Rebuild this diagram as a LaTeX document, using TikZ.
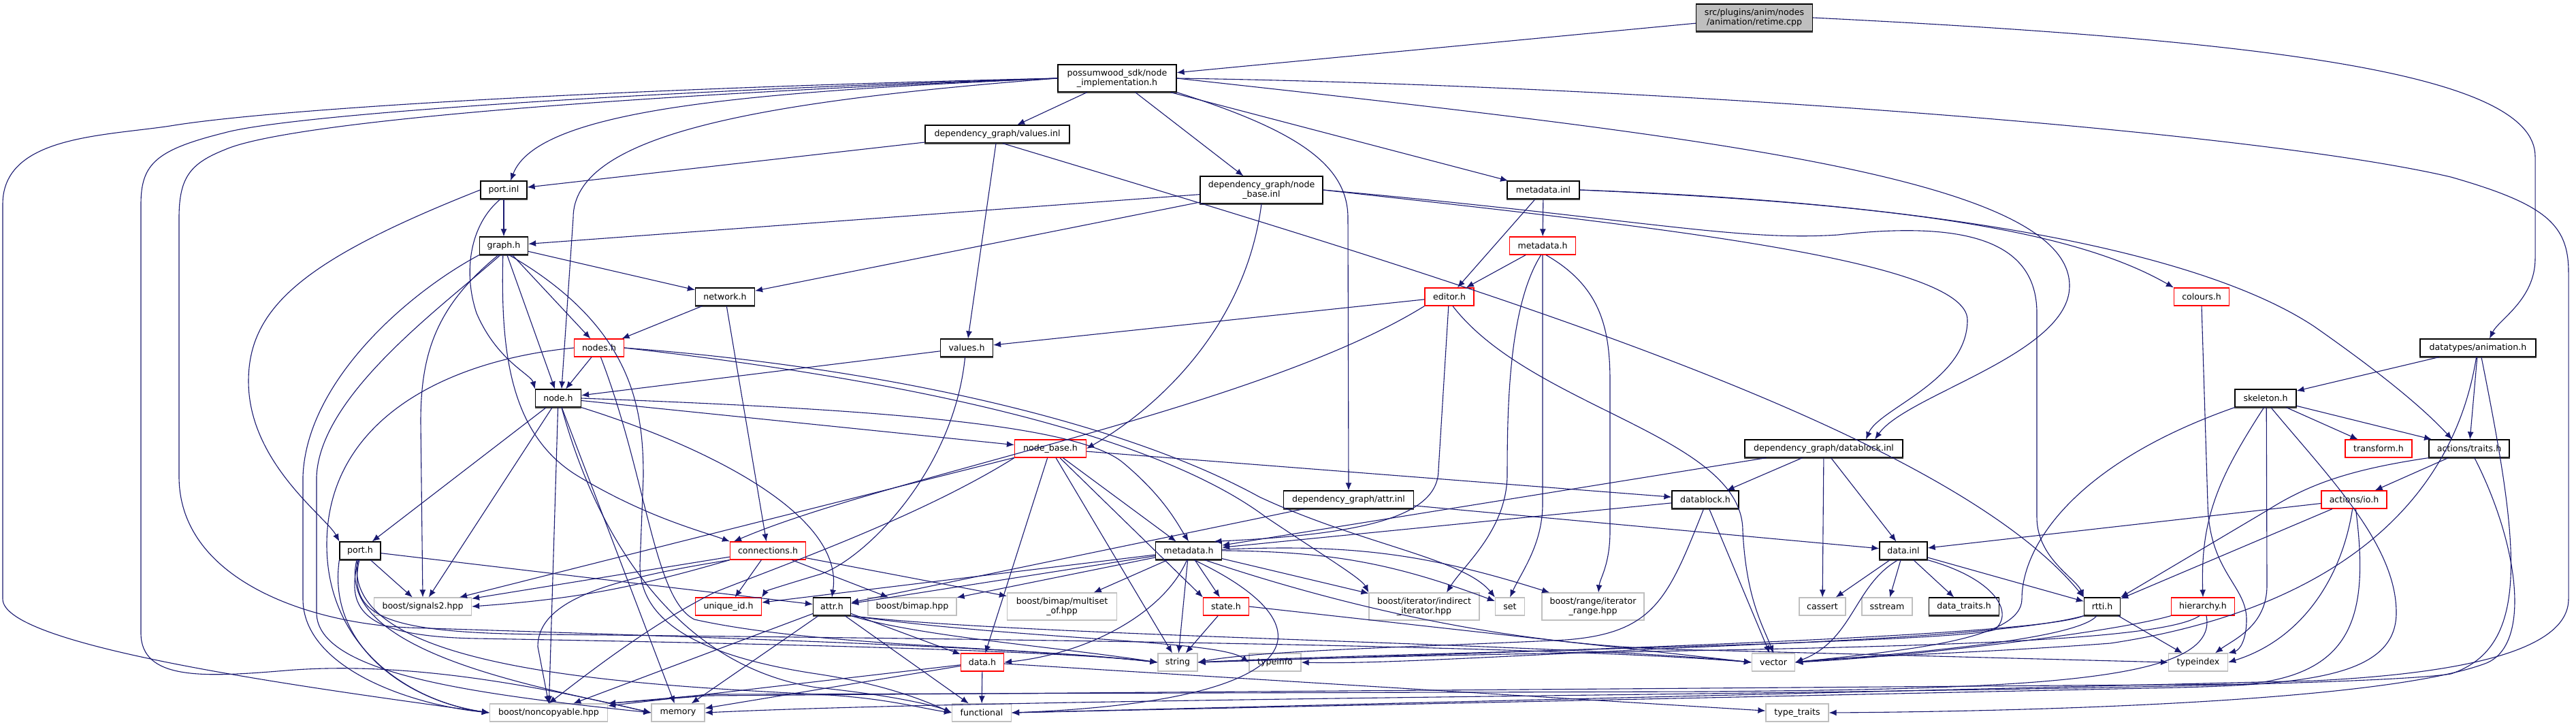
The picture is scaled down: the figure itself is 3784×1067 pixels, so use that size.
\documentclass[tikz,border=0pt]{standalone}
\usepackage{fontspec}
\setmainfont{DejaVu Sans}
\usepackage{tikz}
\usetikzlibrary{arrows.meta,calc}
\definecolor{DoxEdge}{HTML}{191970}
\definecolor{DoxGrey}{HTML}{BFBFBF}
\definecolor{DoxMain}{HTML}{BFBFBF}
\definecolor{DoxShade}{HTML}{404040}

\begin{document}
\begin{tikzpicture}[x=0.5pt,y=-0.5pt,>={Latex[length=5.5pt,width=4.5pt]},
 file/.style={draw=black,fill=white,line width=0.6pt,minimum height=13pt,inner sep=1pt,align=center,font=\fontsize{6.3}{7.2}\selectfont},
 docfile/.style={file,append after command={(\tikzlastnode.south west) edge[draw=DoxShade,line width=1.1pt] (\tikzlastnode.south east)}},
 redfile/.style={file,draw=red},
 extfile/.style={file,draw=DoxGrey},
 twoline/.style={minimum height=20pt},
 dep/.style={->,draw=DoxEdge,line width=0.55pt}]
\path[fill=white] (0,0) rectangle (3784,1067);
\useasboundingbox (0,0) rectangle (3784,1067);
\node[docfile,twoline,fill=DoxMain,minimum width=85.5pt] (retime) at (2577,26) {src/plugins/anim/nodes\\/animation/retime.cpp};
\node[docfile,twoline,minimum width=87pt] (implh) at (1641,115) {possumwood\_sdk/node\\\_implementation.h};
\node[docfile,minimum width=106pt] (valuesinl) at (1465,197) {dependency\_graph/values.inl};
\node[docfile,twoline,minimum width=90pt] (nodebaseinl) at (1853,279) {dependency\_graph/node\\\_base.inl};
\node[docfile,minimum width=53pt] (metainl) at (2267,279) {metadata.inl};
\node[docfile,minimum width=34pt] (portinl) at (740,279) {port.inl};
\node[docfile,minimum width=35.5pt] (graphh) at (740,361) {graph.h};
\node[docfile,minimum width=43.5pt] (networkh) at (1065,436) {network.h};
\node[redfile,minimum width=36.5pt] (nodesh) at (880,511) {nodes.h};
\node[redfile,minimum width=48.5pt] (metah) at (2266,361) {metadata.h};
\node[redfile,minimum width=36pt] (editorh) at (2129,436) {editor.h};
\node[docfile,minimum width=38.5pt] (valuesh) at (1420,511) {values.h};
\node[redfile,minimum width=40.5pt] (coloursh) at (3234,436) {colours.h};
\node[docfile,minimum width=85pt] (animh) at (3640,511) {datatypes/animation.h};
\node[docfile,minimum width=33.5pt] (nodeh) at (820,585) {node.h};
\node[docfile,minimum width=30pt] (porth) at (529,809) {port.h};
\node[redfile,minimum width=55.5pt] (connh) at (1128,809) {connections.h};
\node[extfile,minimum width=71.5pt] (signals) at (621,891) {boost/signals2.hpp};
\node[redfile,minimum width=48.5pt] (uidh) at (1070,891) {unique\_id.h};
\node[docfile,minimum width=27.5pt] (attrh) at (1222,891) {attr.h};
\node[extfile,minimum width=86.5pt] (noncopy) at (806,1047) {boost/noncopyable.hpp};
\node[extfile,minimum width=39pt] (stdmemory) at (996,1047) {memory};
\node[redfile,minimum width=52.5pt] (nodebaseh) at (1543,659) {node\_base.h};
\node[docfile,minimum width=95.5pt] (attrinl) at (1981,734) {dependency\_graph/attr.inl};
\node[docfile,minimum width=49pt] (datablockh) at (2505,734) {datablock.h};
\node[docfile,minimum width=48.5pt] (dgmetah) at (1746,809) {metadata.h};
\node[extfile,minimum width=65pt] (bimap) at (1340,891) {boost/bimap.hpp};
\node[extfile,twoline,minimum width=80.5pt] (multiset) at (1560,891) {boost/bimap/multiset\\\_of.hpp};
\node[redfile,minimum width=33.5pt] (stateh) at (1801,891) {state.h};
\node[extfile,twoline,minimum width=81pt] (indirect) at (2092,891) {boost/iterator/indirect\\\_iterator.hpp};
\node[extfile,minimum width=21.5pt] (stdset) at (2218,891) {set};
\node[extfile,twoline,minimum width=75pt] (rangeh) at (2340,891) {boost/range/iterator\\\_range.hpp};
\node[redfile,minimum width=31.5pt] (datah) at (1443,973) {data.h};
\node[extfile,minimum width=29pt] (stdstring) at (1730,973) {string};
\node[extfile,minimum width=38pt] (stdtypeinfo) at (1873,973) {typeinfo};
\node[extfile,minimum width=43.5pt] (stdfunctional) at (1442,1047) {functional};
\node[docfile,minimum width=45pt] (skeletonh) at (3328,585) {skeleton.h};
\node[docfile,minimum width=116pt] (datablockinl) at (2679,659) {dependency\_graph/datablock.inl};
\node[redfile,minimum width=49pt] (transformh) at (3494,659) {transform.h};
\node[docfile,minimum width=59pt] (traitsh) at (3627,659) {actions/traits.h};
\node[redfile,minimum width=48pt] (ioh) at (3458,734) {actions/io.h};
\node[docfile,minimum width=35pt] (datainl) at (2796,809) {data.inl};
\node[extfile,minimum width=34pt] (stdcassert) at (2677,891) {cassert};
\node[extfile,minimum width=37pt] (stdsstream) at (2772,891) {sstream};
\node[docfile,minimum width=51.5pt] (datatraitsh) at (2885,891) {data\_traits.h};
\node[docfile,minimum width=26.5pt] (rttih) at (3088,891) {rtti.h};
\node[redfile,minimum width=46.5pt] (hierarchyh) at (3236,891) {hierarchy.h};
\node[extfile,minimum width=31.5pt] (stdvector) at (2605,973) {vector};
\node[extfile,minimum width=43.5pt] (stdtypeindex) at (3229,973) {typeindex};
\node[extfile,minimum width=46pt] (stdtraits) at (2640,1047) {type\_traits};
\draw[dep] (retime) -- (implh);
\draw[dep] (retime.east) .. controls (3350,60) and (3724,110) .. (3724,230) -- (3724,380) .. controls (3724,440) and (3670,470) .. ($(animh.north)+(17,0)$);
\draw[dep] (implh) -- (valuesinl);
\draw[dep] (implh) -- (nodebaseinl);
\draw[dep] (implh) -- (metainl);
\draw[dep] (implh.west) .. controls (1100,135) and (790,160) .. ($(portinl.north)+(10,0)$);
\draw[dep] (implh.west) .. controls (1100,150) and (842,200) .. (842,320) -- (nodeh.70);
\draw[dep] (implh.south east) .. controls (1900,190) and (1980,240) .. (1980,320) -- (attrinl.north);
\draw[dep] (implh.east) .. controls (2500,200) and (3040,260) .. (3040,420) .. controls (3040,520) and (2800,580) .. ($(datablockinl.north)+(75,0)$);
\draw[dep] (implh.west) .. controls (900,130) and (400,160) .. (250,185) .. controls (150,200) and (4,200) .. (4,300) -- (4,880) .. controls (4,950) and (450,1010) .. (noncopy.west);
\draw[dep] (implh.west) .. controls (900,135) and (420,170) .. (330,195) .. controls (230,220) and (207,240) .. (207,300) -- (207,930) .. controls (207,1000) and (300,995) .. (420,985) .. controls (600,970) and (800,1010) .. (stdmemory.west);
\draw[dep] (implh.west) .. controls (900,140) and (420,180) .. (330,220) .. controls (280,240) and (263,260) .. (263,320) -- (263,700) .. controls (263,850) and (450,915) .. (600,922) .. controls (1000,935) and (1500,950) .. (stdstring.west);
\draw[dep] (implh.east) .. controls (2400,125) and (3300,190) .. (3600,260) .. controls (3740,300) and (3773,330) .. (3773,400) -- (3773,880) .. controls (3773,960) and (3600,990) .. (3400,1000) -- (stdfunctional.east);
\draw[dep] (valuesinl) -- (portinl);
\draw[dep] (valuesinl) -- (valuesh);
\draw[dep] (valuesinl.-60) .. controls (2100,400) and (2850,620) .. (rttih.north west);
\draw[dep] (nodebaseinl) -- (graphh);
\draw[dep] (nodebaseinl) -- (networkh);
\draw[dep] (nodebaseinl.south) .. controls (1830,480) and (1700,600) .. (nodebaseh.east);
\draw[dep] (nodebaseinl.east) .. controls (2400,330) and (2890,380) .. (2890,470) .. controls (2890,560) and (2760,600) .. ($(datablockinl.north)+(62,0)$);
\draw[dep] (nodebaseinl.east) .. controls (2400,320) and (2550,355) .. (2700,345) .. controls (2880,325) and (2992,350) .. (2992,460) -- (2992,760) .. controls (2992,820) and (3050,850) .. (rttih.north west);
\draw[dep] (metainl) -- (metah);
\draw[dep] (metainl) -- (editorh);
\draw[dep] (metainl.east) .. controls (2800,300) and (3050,340) .. (coloursh.north west);
\draw[dep] (metainl.east) .. controls (2900,300) and (3250,380) .. (3400,480) .. controls (3500,550) and (3560,600) .. ($(traitsh.north)+(-25,0)$);
\draw[dep] (metah) -- (editorh);
\draw[dep] (metah.-100) .. controls (2216,450) and (2214,600) .. (2214,700) .. controls (2212,780) and (2150,830) .. ($(indirect.north)+(33,0)$);
\draw[dep] (metah.south) -- (2266,740) .. controls (2266,800) and (2235,840) .. (stdset.north);
\draw[dep] (metah.-70) .. controls (2350,420) and (2365,480) .. (2365,560) -- (2365,780) .. controls (2365,830) and (2350,850) .. ($(rangeh.north)+(8,0)$);
\draw[dep] (editorh) -- (valuesh);
\draw[dep] (editorh.south west) .. controls (1850,600) and (1300,700) .. ($(connh.north)+(-50,0)$);
\draw[dep] (editorh.-95) -- (2113,690) .. controls (2113,760) and (2000,785) .. (dgmetah.20);
\draw[dep] (editorh.-70) .. controls (2250,600) and (2560,640) .. (2560,780) .. controls (2565,880) and (2590,920) .. (stdvector.north);
\draw[dep] (coloursh.south) -- (3243,740) .. controls (3245,840) and (3300,860) .. (3300,910) .. controls (3300,940) and (3290,955) .. (stdtypeindex.north east);
\draw[dep] (animh) -- (skeletonh);
\draw[dep] (animh) -- (traitsh);
\draw[dep] (animh.-100) .. controls (3600,760) and (3400,900) .. (3100,945) .. controls (2900,960) and (2700,965) .. (stdvector.east);
\draw[dep] (animh.-70) .. controls (3700,800) and (3720,950) .. (3600,990) .. controls (3400,1020) and (1600,1020) .. (stdmemory.east);
\draw[dep] (skeletonh) -- (transformh);
\draw[dep] (skeletonh) -- (traitsh);
\draw[dep] (skeletonh.-100) .. controls (3260,700) and (3232,760) .. (hierarchyh.north);
\draw[dep] (skeletonh.south west) .. controls (3050,680) and (2970,800) .. (2970,880) .. controls (2970,940) and (2800,955) .. (stdvector.east);
\draw[dep] (skeletonh.-85) -- (3330,860) .. controls (3330,920) and (3280,940) .. ($(stdtypeindex.north)+(25,0)$);
\draw[dep] (skeletonh.-60) .. controls (3420,700) and (3520,800) .. (3520,900) .. controls (3520,990) and (3400,1005) .. (3200,1010) -- (stdfunctional.east);
\draw[dep] (traitsh) -- (ioh);
\draw[dep] (traitsh.south west) .. controls (3450,690) and (3390,712) .. (3330,750) -- (rttih.north east);
\draw[dep] (traitsh.-60) .. controls (3700,800) and (3720,950) .. (3650,975) .. controls (3500,1030) and (3000,1045) .. (stdtraits.east);
\draw[dep] (ioh) -- (datainl);
\draw[dep] (ioh) -- (rttih);
\draw[dep] (ioh.-100) .. controls (3440,850) and (3380,940) .. (stdtypeindex.east);
\draw[dep] (ioh.-80) .. controls (3480,900) and (3460,990) .. (3300,1005) -- (1040,1022) -- (noncopy.north east);
\draw[dep] (datainl) -- (stdcassert);
\draw[dep] (datainl) -- (stdsstream);
\draw[dep] (datainl) -- (datatraitsh);
\draw[dep] (datainl) -- (rttih);
\draw[dep] (datainl.south east) .. controls (2930,850) and (2960,900) .. (2930,925) .. controls (2880,945) and (2000,960) .. (stdstring.east);
\draw[dep] (datainl.-120) .. controls (2723,860) and (2723,940) .. (stdvector.east);
\draw[dep] (rttih) -- (stdtypeindex);
\draw[dep] (rttih.south west) .. controls (3000,930) and (2500,950) .. (stdstring.east);
\draw[dep] (rttih.-120) .. controls (3050,940) and (2800,960) .. (stdvector.east);
\draw[dep] (rttih.south west) .. controls (2950,935) and (2600,945) .. (2400,955) .. controls (2100,970) and (2000,975) .. (stdtypeinfo.east);
\draw[dep] (hierarchyh.south west) .. controls (3100,930) and (2800,965) .. (stdvector.east);
\draw[dep] (hierarchyh.-110) .. controls (3150,960) and (2400,950) .. (stdstring.east);
\draw[dep] (hierarchyh.-70) .. controls (3260,1000) and (3000,1012) .. (2500,1016) -- (1045,1020) -- (noncopy.north east);
\draw[dep] (datablockinl) -- (datablockh);
\draw[dep] (datablockinl) -- (dgmetah);
\draw[dep] (datablockinl) -- (stdcassert);
\draw[dep] (datablockinl) -- (datainl);
\draw[dep] (datablockh) -- (dgmetah);
\draw[dep] (datablockh) -- (stdvector);
\draw[dep] (datablockh.-100) .. controls (2450,880) and (2430,930) .. (2300,940) .. controls (2100,950) and (1850,955) .. (stdstring.east);
\draw[dep] (attrinl) -- (attrh);
\draw[dep] (attrinl) -- (datainl);
\draw[dep] (nodebaseh) -- (dgmetah);
\draw[dep] (nodebaseh) -- (datablockh);
\draw[dep] (nodebaseh) -- (datah);
\draw[dep] (nodebaseh) -- (stdstring);
\draw[dep] (nodebaseh) -- (stateh.north west);
\draw[dep] (nodebaseh) -- (signals);
\draw[dep] (nodebaseh.south west) .. controls (1350,760) and (1150,830) .. (1050,870) .. controls (950,920) and (850,1000) .. (noncopy.north);
\draw[dep] (dgmetah) -- (uidh);
\draw[dep] (dgmetah) -- (attrh);
\draw[dep] (dgmetah) -- (bimap);
\draw[dep] (dgmetah) -- (multiset);
\draw[dep] (dgmetah) -- (stateh);
\draw[dep] (dgmetah) -- (indirect);
\draw[dep] (dgmetah) to[bend left=10] (stdset);
\draw[dep] (dgmetah) to[bend left=10] (rangeh);
\draw[dep] (dgmetah) -- (stdstring);
\draw[dep] (dgmetah.-100) .. controls (1710,900) and (1600,960) .. (datah.east);
\draw[dep] (dgmetah.-60) .. controls (1960,920) and (1930,1030) .. (stdfunctional.east);
\draw[dep] (dgmetah.-30) .. controls (2000,900) and (2250,952) .. (2500,955) -- (stdtypeindex.west);
\draw[dep] (stateh) -- (stdstring);
\draw[dep] (stateh.east) -- (stdvector.west);
\draw[dep] (attrh) -- (datah);
\draw[dep] (attrh) -- (stdmemory);
\draw[dep] (attrh) -- (noncopy);
\draw[dep] (attrh) -- (stdfunctional);
\draw[dep] (attrh.south east) .. controls (1350,935) and (1550,950) .. (stdstring.west);
\draw[dep] (attrh.south east) .. controls (1500,940) and (1790,940) .. (stdtypeinfo.west);
\draw[dep] (attrh.south east) .. controls (1500,935) and (2300,945) .. (stdvector.west);
\draw[dep] (datah) -- (stdfunctional);
\draw[dep] (datah) -- (noncopy);
\draw[dep] (datah) -- (stdmemory);
\draw[dep] (datah) -- (stdtraits);
\draw[dep] (porth) -- (signals);
\draw[dep] (porth) -- (attrh);
\draw[dep] (porth.south west) .. controls (480,950) and (600,1030) .. (noncopy.west);
\draw[dep] (porth.-110) .. controls (490,960) and (800,1010) .. (stdmemory.west);
\draw[dep] (porth.-105) .. controls (500,980) and (900,1005) .. (1200,1020) .. controls (1300,1025) and (1350,1040) .. (stdfunctional.west);
\draw[dep] (porth.-100) .. controls (505,900) and (540,935) .. (700,938) .. controls (1100,945) and (1550,955) .. (stdstring.west);
\draw[dep] (porth.-95) .. controls (510,905) and (560,930) .. (800,932) .. controls (1600,940) and (2300,950) .. (stdvector.west);
\draw[dep] (connh) -- (signals);
\draw[dep] (connh.south west) to[bend left=6] (signals.east);
\draw[dep] (connh) -- (uidh);
\draw[dep] (connh) -- (bimap);
\draw[dep] (connh) -- (multiset);
\draw[dep] (connh.south west) .. controls (900,850) and (790,880) .. (790,950) -- (noncopy.north);
\draw[dep] (networkh) -- (nodesh);
\draw[dep] (networkh) -- (connh);
\draw[dep] (nodesh) -- (nodeh);
\draw[dep] (nodesh.east) .. controls (1300,540) and (1650,620) .. (1850,730) .. controls (2000,800) and (2150,820) .. (stdset.north west);
\draw[dep] (nodesh.east) .. controls (1350,560) and (1700,640) .. (1860,760) .. controls (1950,820) and (2000,850) .. (indirect.north west);
\draw[dep] (nodesh.west) .. controls (650,530) and (480,620) .. (480,800) .. controls (480,950) and (600,1030) .. (noncopy.west);
\draw[dep] (nodesh.-80) .. controls (950,700) and (960,880) .. (1020,910) .. controls (1200,950) and (1500,950) .. (stdstring.west);
\draw[dep] (nodeh) -- (nodebaseh);
\draw[dep] (nodeh.east) .. controls (1250,600) and (1580,620) .. (1650,680) .. controls (1710,730) and (1730,770) .. (dgmetah.north);
\draw[dep] (nodeh) -- (porth);
\draw[dep] (nodeh) -- (signals);
\draw[dep] (nodeh) -- (stdmemory);
\draw[dep] (nodeh) -- (noncopy);
\draw[dep] (nodeh.south east) .. controls (1050,660) and (1240,760) .. (attrh.north);
\draw[dep] (nodeh.-70) .. controls (880,800) and (1000,980) .. (1200,1010) .. controls (1300,1020) and (1370,1035) .. (stdfunctional.west);
\draw[dep] (graphh) -- (networkh);
\draw[dep] (graphh) -- (nodesh);
\draw[dep] (graphh) -- (nodeh);
\draw[dep] (graphh.-95) .. controls (735,520) and (750,640) .. (850,700) .. controls (950,760) and (1030,780) .. (connh.north west);
\draw[dep] (graphh.-120) .. controls (640,450) and (618,520) .. (618,620) -- (signals.north);
\draw[dep] (graphh.south west) .. controls (600,430) and (450,560) .. (445,700) -- (445,880) .. controls (445,980) and (600,1035) .. (noncopy.west);
\draw[dep] (graphh.-110) .. controls (650,450) and (470,580) .. (465,700) -- (465,900) .. controls (465,990) and (700,1020) .. (stdmemory.west);
\draw[dep] (graphh.-60) .. controls (930,480) and (945,600) .. (945,700) -- (940,830) .. controls (940,900) and (1000,960) .. (1200,990) .. controls (1300,1005) and (1360,1030) .. (stdfunctional.west);
\draw[dep] (portinl) -- (graphh);
\draw[dep] (portinl.west) .. controls (450,380) and (365,450) .. (365,560) .. controls (365,680) and (480,760) .. (porth.north west);
\draw[dep] (portinl.-110) .. controls (690,330) and (680,400) .. (700,460) .. controls (730,530) and (780,550) .. (nodeh.north west);
\draw[dep] (valuesh) -- (nodeh);
\draw[dep] (valuesh.-100) .. controls (1400,700) and (1260,830) .. (1200,845) .. controls (1150,860) and (1125,868) .. (uidh.north east);
\end{tikzpicture}
\end{document}
